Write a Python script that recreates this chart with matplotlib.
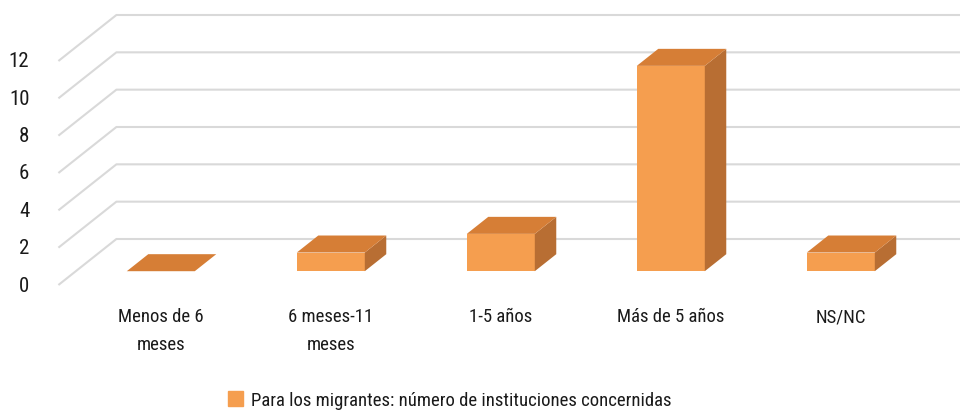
import matplotlib
matplotlib.use("Agg")
import matplotlib.pyplot as plt
from matplotlib import font_manager
from matplotlib.patches import Polygon, Patch

categories = ["Menos de 6\nmeses", "6 meses-11\nmeses", "1-5 años", "Más de 5 años", "NS/NC"]
values = [0, 1, 2, 11, 1]
yticks = [0, 2, 4, 6, 8, 10, 12]
series_name = "Para los migrantes: número de instituciones concernidas"

FRONT = "#F59E4F"
TOP = "#D67E36"
SIDE = "#B86E33"
GRID = "#D9D9D9"

# pick a narrow font if one is around
names = {f.name for f in font_manager.fontManager.ttflist}
family = "DejaVu Sans"
for cand in ["Liberation Sans Narrow", "Roboto Condensed", "DejaVu Sans Condensed", "Roboto"]:
    if cand in names:
        family = cand
        break
plt.rcParams["font.family"] = [family, "DejaVu Sans"]

# oblique depth: full depth shifts 58 px right and 46 px up
PX_CAT = 170.0       # px per category
PX_VAL = 18.667      # px per value unit
DX = 58 / PX_CAT
DY = 46 / PX_VAL
BAR_W = 0.4
D0, D1 = 0.30, 0.67


def proj(x, v, d):
    return (x + d * DX, v + d * DY)


fig = plt.figure(figsize=(9.6, 4.14), dpi=100)
ax = fig.add_axes([0, 0, 1, 1])
ax.set_xlim((0 - 143.4) / PX_CAT, (960 - 143.4) / PX_CAT)
ax.set_ylim(-128 / PX_VAL, 286 / PX_VAL)
ax.axis("off")

n = len(categories)
x_left = -0.5
x_right = n - 0.5 + 0.5

# back wall + side wall gridlines
for v in yticks:
    a = proj(x_left, v, 0)
    b = proj(x_left, v, 1)
    c = proj(x_right, v, 1)
    ax.plot([a[0], b[0], c[0]], [a[1], b[1], c[1]], color=GRID, lw=1.5,
            solid_capstyle="butt", zorder=1)
    ax.text(x_left - 0.17, v, str(v), ha="right", va="center",
            fontsize=15, color="#1a1a1a")

for i, (lab, val) in enumerate(zip(categories, values)):
    xa, xb = i - BAR_W / 2, i + BAR_W / 2
    if val > 0:
        front = [proj(xa, 0, D0), proj(xb, 0, D0), proj(xb, val, D0), proj(xa, val, D0)]
        ax.add_patch(Polygon(front, closed=True, fc=FRONT, ec="none", zorder=3))
        side = [proj(xb, 0, D0), proj(xb, 0, D1), proj(xb, val, D1), proj(xb, val, D0)]
        ax.add_patch(Polygon(side, closed=True, fc=SIDE, ec="none", zorder=3))
    top = [proj(xa, val, D0), proj(xb, val, D0), proj(xb, val, D1), proj(xa, val, D1)]
    ax.add_patch(Polygon(top, closed=True, fc=TOP, ec="none", zorder=3))
    ax.text(i + D0 * DX, -1.2, lab, ha="center", va="top", fontsize=13.5,
            color="#1a1a1a", linespacing=1.65)

fig.legend(handles=[Patch(color=FRONT)], labels=[series_name], loc="center",
           bbox_to_anchor=(450 / 960, 13 / 414), frameon=False, fontsize=13.5,
           handlelength=0.8, handleheight=0.8, handletextpad=0.45,
           labelcolor="#1a1a1a")

fig.savefig("out.png", dpi=100)
